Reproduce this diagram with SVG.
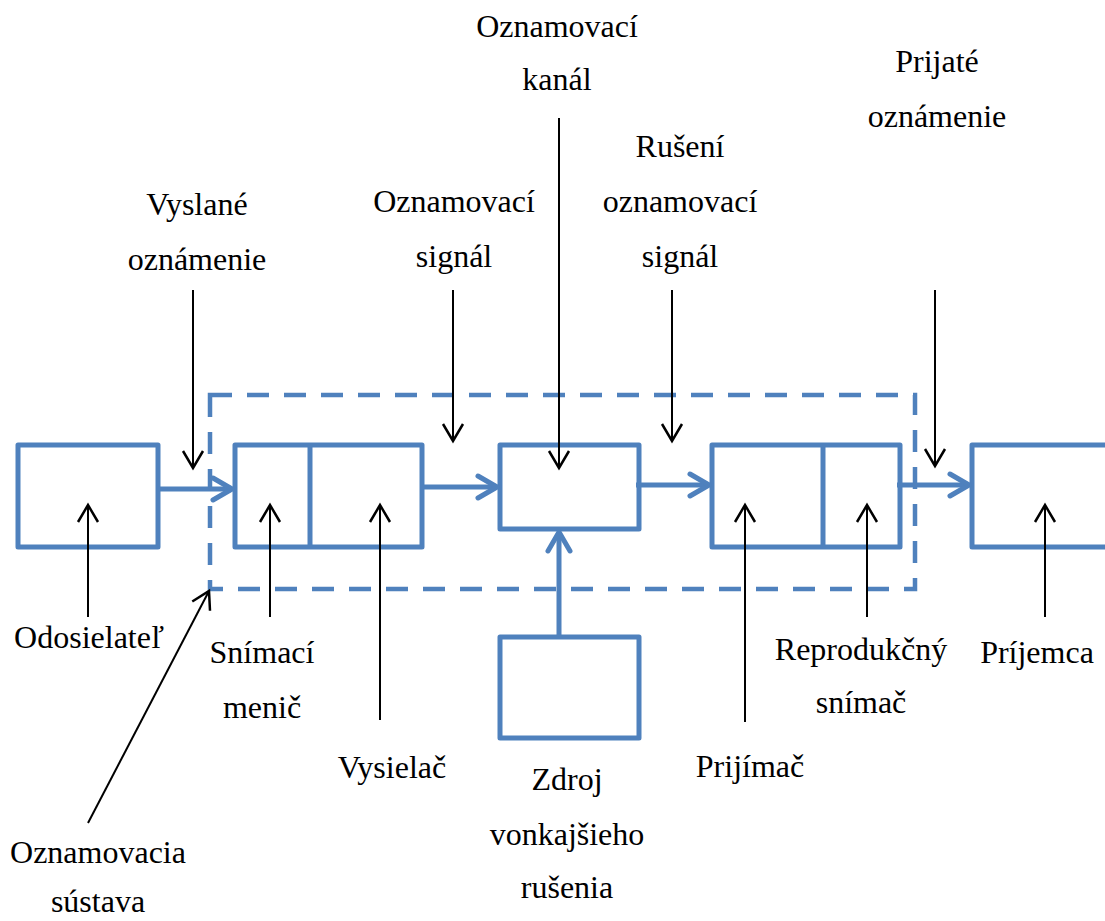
<svg xmlns="http://www.w3.org/2000/svg" width="1105" height="921" viewBox="0 0 1105 921">
<defs>
<marker id="ab" markerUnits="userSpaceOnUse" viewBox="-20 -12 22 24" refX="0" refY="0" markerWidth="22" markerHeight="24" orient="auto" overflow="visible"><path d="M-17,-10 L0,0 L-17,10" fill="none" stroke="#000" stroke-width="2.5"/></marker>
<marker id="au" markerUnits="userSpaceOnUse" viewBox="-22 -14 24 28" refX="0" refY="0" markerWidth="24" markerHeight="28" orient="auto" overflow="visible"><path d="M-19,-11 L0,0 L-19,11" fill="none" stroke="#4F81BD" stroke-width="5" stroke-linecap="round" stroke-linejoin="round"/></marker>
</defs>
<style>
.box{fill:#fff;stroke:#4F81BD;stroke-width:5;stroke-linejoin:round}
.div{stroke:#4F81BD;stroke-width:5}
.bl{stroke:#4F81BD;stroke-width:5;fill:none;marker-end:url(#au)}
.k{stroke:#000;stroke-width:2;fill:none;marker-end:url(#ab)}
.dash{fill:none;stroke:#4F81BD;stroke-width:4.5;stroke-dasharray:22 15}
text{font-family:'Liberation Serif','Times New Roman',Times,'DejaVu Serif',serif;font-size:32px;fill:#000;text-anchor:middle}
</style>
<rect width="1105" height="921" fill="#fff"/>
<g id="system">
<rect class="dash" x="210" y="395" width="705" height="194"/>
</g>
<g id="odosielatel"><rect class="box" x="18" y="445" width="140" height="102"/></g>
<g id="vysielac"><rect class="box" x="235" y="445" width="187" height="102"/><line class="div" x1="310" y1="445" x2="310" y2="547"/></g>
<g id="kanal"><rect class="box" x="500" y="445" width="139" height="84"/></g>
<g id="prijimac"><rect class="box" x="712" y="445" width="188" height="102"/><line class="div" x1="823" y1="445" x2="823" y2="547"/></g>
<g id="prijemca"><rect class="box" x="972" y="445" width="200" height="102"/></g>
<g id="zdroj"><rect class="box" x="500" y="637" width="139" height="101"/></g>
<g id="connectors">
<line class="bl" x1="158" y1="489" x2="232" y2="489"/>
<line class="bl" x1="422" y1="487" x2="497" y2="487"/>
<line class="bl" x1="636" y1="485" x2="709" y2="485"/>
<line class="bl" x1="897" y1="485" x2="969" y2="485"/>
<line class="bl" x1="559" y1="637" x2="559" y2="532"/>
<line class="k" x1="193" y1="290" x2="193" y2="468"/>
<line class="k" x1="453" y1="290" x2="453" y2="441"/>
<line class="k" x1="559" y1="118" x2="559" y2="468"/>
<line class="k" x1="672" y1="290" x2="672" y2="441"/>
<line class="k" x1="935" y1="290" x2="935" y2="466"/>
<line class="k" x1="88" y1="617" x2="88" y2="505"/>
<line class="k" x1="270" y1="617" x2="270" y2="505"/>
<line class="k" x1="380" y1="720" x2="380" y2="505"/>
<line class="k" x1="745" y1="722" x2="745" y2="505"/>
<line class="k" x1="867" y1="617" x2="867" y2="505"/>
<line class="k" x1="1045" y1="617" x2="1045" y2="505"/>
<line class="k" x1="88" y1="823" x2="209" y2="591"/>
</g>
<g id="labels">
<text x="557" y="37">Oznamovací</text>
<text x="557" y="90">kanál</text>
<text x="937" y="72">Prijaté</text>
<text x="937" y="127">oznámenie</text>
<text x="680" y="157">Rušení</text>
<text x="680" y="212">oznamovací</text>
<text x="680" y="267">signál</text>
<text x="454" y="212">Oznamovací</text>
<text x="454" y="267">signál</text>
<text x="197" y="215">Vyslané</text>
<text x="197" y="270">oznámenie</text>
<text x="89" y="648">Odosielateľ</text>
<text x="262" y="663">Snímací</text>
<text x="262" y="718">menič</text>
<text x="392" y="778">Vysielač</text>
<text x="567" y="790">Zdroj</text>
<text x="567" y="845">vonkajšieho</text>
<text x="567" y="898">rušenia</text>
<text x="750" y="777">Prijímač</text>
<text x="861" y="660">Reprodukčný</text>
<text x="861" y="713">snímač</text>
<text x="1037" y="663">Príjemca</text>
<text x="98" y="863">Oznamovacia</text>
<text x="98" y="912">sústava</text>
</g>
</svg>
